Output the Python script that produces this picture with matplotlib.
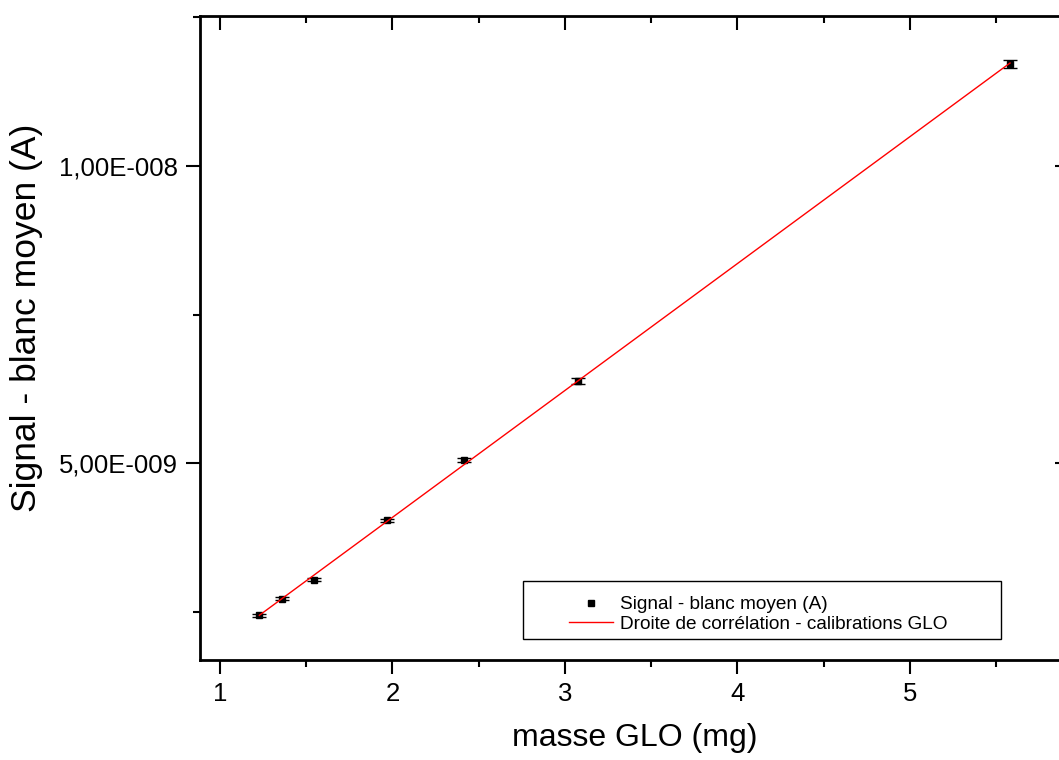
import numpy as np
import matplotlib
matplotlib.use("Agg")
import matplotlib.pyplot as plt
from matplotlib.lines import Line2D
from matplotlib.patches import Rectangle
from matplotlib.ticker import FuncFormatter, MultipleLocator

plt.rcParams['font.family'] = ['Liberation Sans', 'DejaVu Sans']

# calibration points
masse = [1.228, 1.358, 1.547, 1.966, 2.416, 3.074, 5.580]
signal = [2.441e-9, 2.716e-9, 3.035e-9, 4.035e-9, 5.05e-9, 6.375e-9, 1.1717e-8]
erreur = [0.025e-9, 0.025e-9, 0.025e-9, 0.03e-9, 0.03e-9, 0.05e-9, 0.07e-9]

labels = ["Signal - blanc moyen (A)", "Droite de corrélation - calibrations GLO"]

# linear fit (droite de correlation)
pente, origine = np.polyfit(masse, signal, 1)
xfit = np.array([min(masse), max(masse)])
yfit = pente * xfit + origine


def fmt_sci(v, pos):
    if v == 0:
        return "0"
    e = int(np.floor(np.log10(abs(v))))
    m = v / 10 ** e
    s = "-" if e < 0 else "+"
    return ("%.2f" % m).replace(".", ",") + "E" + s + "%03d" % abs(e)


W, H = 1059, 760
fig = plt.figure(figsize=(W / 100, H / 100), dpi=100)
ax = fig.add_axes([200 / W, 1 - 660 / H, 869 / W, 644 / H])

ax.errorbar(masse, signal, yerr=erreur, fmt="s", color="black", ms=4.5,
            elinewidth=1, capsize=5, capthick=1, zorder=3)
ax.plot(xfit, yfit, color="red", lw=1, zorder=4)

ax.set_xlim(0.884, 5.922)
ax.set_ylim(1.684e-9, 1.2525e-8)

ax.xaxis.set_major_locator(MultipleLocator(1))
ax.xaxis.set_minor_locator(MultipleLocator(0.5))
ax.yaxis.set_major_locator(MultipleLocator(5e-9))
ax.yaxis.set_minor_locator(MultipleLocator(2.5e-9))
ax.yaxis.set_major_formatter(FuncFormatter(fmt_sci))
ax.yaxis.get_offset_text().set_visible(False)

for sp in ax.spines.values():
    sp.set_linewidth(2)

ax.tick_params(which="both", direction="out", width=1.5, labelsize=18.5, pad=6)
ax.tick_params(which="major", length=10)
ax.tick_params(which="minor", length=5)
ax.tick_params(axis="x", which="both", top=True)
ax.tick_params(axis="y", which="both", right=True)
# top/right ticks point inward
for t in ax.xaxis.get_major_ticks() + ax.xaxis.get_minor_ticks():
    t.tick2line.set_marker(matplotlib.lines.TICKDOWN)
for t in ax.yaxis.get_major_ticks() + ax.yaxis.get_minor_ticks():
    t.tick2line.set_marker(matplotlib.lines.TICKLEFT)

ax.set_xlabel("masse GLO (mg)", fontsize=23, labelpad=12)
ax.set_ylabel("Signal - blanc moyen (A)", fontsize=25.5)
ax.yaxis.set_label_coords(-157 / 869, (660 - 318) / 644)

# legend: frame drawn separately to get the wide side margins
handles = [Line2D([], [], marker="s", ls="none", color="black", ms=4.5),
           Line2D([], [], color="red", lw=1)]
ax.add_patch(Rectangle((323 / 869, 21 / 644), 478 / 869, 58 / 644,
                       transform=ax.transAxes, fill=True, facecolor="white",
                       edgecolor="black", lw=1, zorder=5))
leg = ax.legend(handles, labels, loc="lower left",
                bbox_to_anchor=(369 / 869, 27 / 644),
                fontsize=13.7, frameon=False, borderaxespad=0, borderpad=0,
                handlelength=2.3, handletextpad=0.4, labelspacing=0.12)
leg.set_zorder(6)

fig.savefig("out.png", dpi=100)
